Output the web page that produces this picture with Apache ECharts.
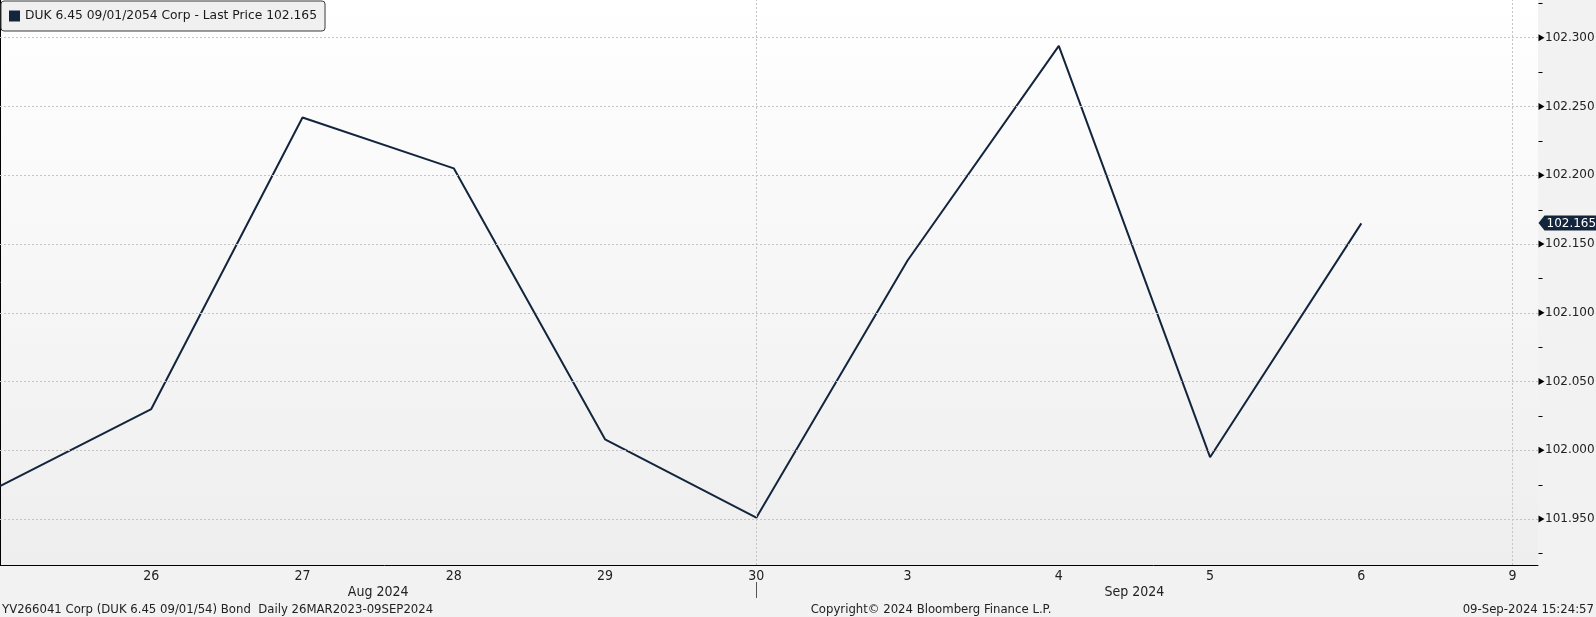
<!DOCTYPE html>
<html><head><meta charset="utf-8">
<script src="https://cdn.jsdelivr.net/npm/echarts@6/dist/echarts.min.js"></script>
<style>html,body{margin:0;padding:0;background:#f2f2f2}#c{width:1596px;height:617px}</style>
</head><body><div id="c"></div>
<script>
const dayLabels = ['23','26','27','28','29','30','3','4','5','6','9'];
const prices = [101.974, 102.030, 102.242, 102.205, 102.008, 101.951, 102.138, 102.294, 101.995, 102.165];
const yTickLabels = [101.95, 102.00, 102.05, 102.10, 102.15, 102.20, 102.25, 102.30];
const yMinorTicks = [101.925, 101.975, 102.025, 102.075, 102.125, 102.175, 102.225, 102.275, 102.325];
const monthNames = ['Aug 2024', 'Sep 2024'];
const monthSpans = [[0, 5], [5, 10]];
const monthBreaks = [5, 10];
const seriesName = 'DUK 6.45 09/01/2054 Corp';
const footerLeft = 'YV266041 Corp (DUK 6.45 09/01/54) Bond  Daily 26MAR2023-09SEP2024';
const footerMid = 'Copyright\u00A9 2024 Bloomberg Finance L.P.';
const footerRight = '09-Sep-2024 15:24:57';
const lastPrice = prices[prices.length - 1];

const NAVY = '#13253d';
const narrow = "'Liberation Sans Narrow','DejaVu Sans Condensed',sans-serif";
const sans = "'DejaVu Sans',sans-serif";
const X_MAX = 10.168;

const chart = echarts.init(document.getElementById('c'), null, {renderer: 'canvas'});

const gridLines = yTickLabels.map(v => ({yAxis: v}))
  .concat(monthBreaks.map(v => ({xAxis: v})));

const option = {
  animation: false,
  backgroundColor: '#f2f2f2',
  grid: {
    left: 0, top: 0, right: 58, bottom: 52, show: true, borderWidth: 0,
    containLabel: false, outerBoundsMode: 'none',
    backgroundColor: new echarts.graphic.LinearGradient(0, 0, 0, 1, [
      {offset: 0, color: '#ffffff'}, {offset: 1, color: '#eeeeee'}
    ])
  },
  legend: {
    left: 1, top: 1, data: [seriesName], icon: 'rect', itemWidth: 11, itemHeight: 11,
    padding: [9, 8, 9, 8], backgroundColor: '#f0f0f0', borderColor: '#3a3a3a',
    borderWidth: 1, borderRadius: 3, selectedMode: false,
    formatter: n => n + ' - Last Price ' + lastPrice.toFixed(3),
    textStyle: {fontSize: 12.3, color: '#1a1a1a', fontFamily: sans}
  },
  xAxis: {
    type: 'value', min: 0, max: X_MAX, interval: 1,
    axisLine: {show: true, lineStyle: {color: '#000', width: 1}},
    axisTick: {show: false}, splitLine: {show: false},
    axisLabel: {
      margin: 4, fontSize: 14, color: '#222', fontFamily: narrow,
      showMinLabel: false,
      formatter: v => (Number.isInteger(v) && v > 0 && v < dayLabels.length) ? dayLabels[v] : ''
    }
  },
  yAxis: {
    type: 'value', position: 'right', min: 101.9166, max: 102.3274, scale: true,
    axisLine: {show: true, lineStyle: {color: '#000', width: 1}},
    axisTick: {show: false},
    splitLine: {show: false},
    axisLabel: {
      customValues: yTickLabels, margin: 7,
      formatter: v => Number(v).toFixed(3),
      fontSize: 12, color: '#222', fontFamily: sans
    }
  },
  series: [{
    name: seriesName, type: 'line', symbol: 'none', clip: false,
    data: prices.map((v, i) => [i, v]),
    lineStyle: {color: NAVY, width: 2}, itemStyle: {color: NAVY},
    markLine: {
      silent: true, symbol: 'none', animation: false,
      lineStyle: {color: '#c4c4c4', type: [2, 2], width: 1},
      label: {show: false},
      data: gridLines
    }
  }]
};
chart.setOption(option);

function px(x) { return chart.convertToPixel({xAxisIndex: 0}, x); }
function py(y) { return chart.convertToPixel({yAxisIndex: 0}, y); }
const graphics = [];
monthNames.forEach((m, i) => {
  const c = (monthSpans[i][0] + monthSpans[i][1]) / 2;
  graphics.push({type: 'text', x: px(c), y: 592, style: {text: m, fontSize: 14, fill: '#222', fontFamily: narrow, align: 'center', verticalAlign: 'middle'}});
});
const sepX = Math.round(px(monthBreaks[0])) + 0.5;
graphics.push({type: 'line', shape: {x1: sepX, y1: 582, x2: sepX, y2: 598}, style: {stroke: '#555', lineWidth: 1}});
const axisX = Math.round(px(X_MAX)) + 0.5;
yMinorTicks.forEach(v => {
  const y = Math.round(py(v)) + 0.5;
  graphics.push({type: 'line', shape: {x1: axisX, y1: y, x2: axisX + 4, y2: y}, style: {stroke: '#000', lineWidth: 1}});
});
yTickLabels.forEach(v => {
  const y = py(v);
  graphics.push({type: 'polygon', shape: {points: [[axisX, y - 3.5], [axisX + 6, y], [axisX, y + 3.5]]}, style: {fill: '#000'}});
});
// last price tag
const ly = Math.round(py(lastPrice));
graphics.push({type: 'polygon', shape: {points: [[axisX, ly], [axisX + 6, ly - 7.5], [1596, ly - 7.5], [1596, ly + 7.5], [axisX + 6, ly + 7.5]]}, style: {fill: NAVY}, z: 10});
graphics.push({type: 'text', x: axisX + 8, y: ly + 0.5, style: {text: lastPrice.toFixed(3), fontSize: 12, fill: '#fff', fontFamily: sans, align: 'left', verticalAlign: 'middle'}, z: 11});
graphics.push({type: 'text', x: 2, y: 610, style: {text: footerLeft, fontSize: 13, fill: '#222', fontFamily: narrow, align: 'left', verticalAlign: 'middle'}});
graphics.push({type: 'text', x: 931, y: 610, style: {text: footerMid, fontSize: 13, fill: '#222', fontFamily: narrow, align: 'center', verticalAlign: 'middle'}});
graphics.push({type: 'text', x: 1594, y: 610, style: {text: footerRight, fontSize: 13, fill: '#222', fontFamily: narrow, align: 'right', verticalAlign: 'middle'}});
chart.setOption({graphic: graphics});
</script></body></html>
